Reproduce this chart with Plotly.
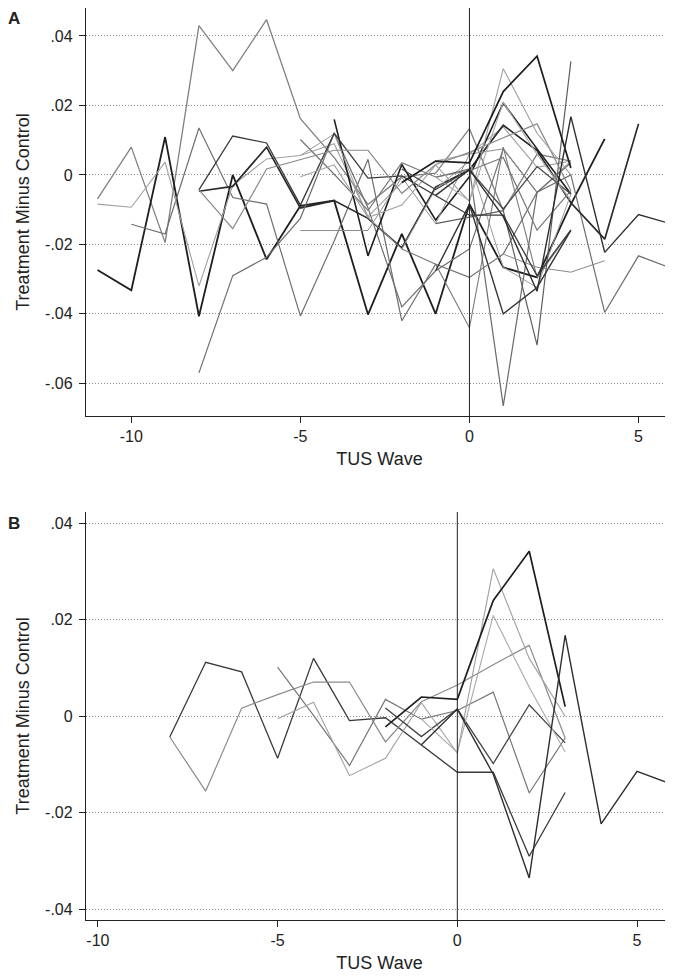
import plotly.graph_objects as go

# ---------------- data: each series = (first TUS wave, values) ----------------
# Panel B series (also drawn in panel A)
b1_start, b1_vals = -8, [-0.0043, 0.0112, 0.0092, -0.0087, 0.012, -0.0009, -0.0003, -0.006, -0.0116, -0.0116, -0.029, -0.0158]
b2_start, b2_vals = -8, [-0.0043, -0.0155, 0.0017, 0.0045, 0.0071, 0.0071, -0.0053, 0.003, 0.0065, 0.0107, 0.0147, -0.0045]
b3_start, b3_vals = -5, [0.0102, 0.0002, -0.0102, 0.0035, -0.0006, 0.0012, 0.005, -0.0159, -0.0045]
b4_start, b4_vals = -5, [-0.0005, 0.0029, -0.0123, -0.0087, 0.0028, -0.0076, 0.0306, 0.012, 0.0]
b5_start, b5_vals = -2, [-0.0022, 0.004, 0.0035, 0.024, 0.0342, 0.002]
b6_start, b6_vals = -2, [0.0017, -0.0042, 0.0015, -0.0098, 0.0024, -0.0055]
b7_start, b7_vals = -1, [-0.0006, -0.0075, 0.0209, 0.006, -0.0074]
b8_start, b8_vals = -1, [-0.0059, 0.0015, -0.012, -0.0335, 0.0168, -0.0223, -0.0114, -0.0142]

# Panel A only series
a1_start, a1_vals = -11, [-0.0069, 0.008, -0.0195, 0.043, 0.030, 0.0447, 0.0162, 0.005, -0.0085, -0.0005, 0.0005, 0.0133, -0.0103, 0.006, 0.004]
a2_start, a2_vals = -11, [-0.0274, -0.0332, 0.0109, -0.0407, 0.0, -0.0243, -0.0089, -0.0074, -0.0402, -0.017, -0.040, -0.0084, -0.0266, -0.0295, -0.0085, 0.0104]
a3_start, a3_vals = -10, [-0.0142, -0.017, 0.0135, -0.0065, -0.0084, -0.0406, -0.019, 0.0045, -0.042, -0.0257, -0.0295, -0.0228, -0.005, 0.0, -0.0396, -0.0233, -0.027]
a4_start, a4_vals = -11, [-0.0084, -0.0093, 0.0037, -0.032, -0.003, 0.0046, 0.0056, 0.009, -0.012, -0.0022, 0.004, 0.006, 0.0138, 0.0022, 0.004]
a5_start, a5_vals = -8, [-0.0047, -0.0033, 0.008, -0.0095, -0.0074, -0.0125, -0.021, -0.0035, 0.0015, 0.0143, 0.007, -0.008, -0.0185, 0.0147]
a6_start, a6_vals = -8, [-0.057, -0.029, -0.0237, -0.0125, 0.012, -0.0095, -0.038, -0.0276, -0.0213, 0.0075, -0.005]
a7_start, a7_vals = -4, [0.016, -0.0233, 0.003, -0.013, -0.0005, 0.0207, 0.0075, -0.0055]
a8_start, a8_vals = -5, [0.0056, 0.0118, -0.0123, -0.0213, -0.004, 0.004, -0.0266, -0.0324, -0.0055]
a9_start, a9_vals = -5, [-0.016, -0.016, -0.016, -0.0007, -0.014, 0.006, 0.0075, -0.005, 0.004]
a10_start, a10_vals = -2, [-0.0213, -0.0257, -0.044, 0.008, -0.0295, -0.016]
a11_start, a11_vals = -1, [-0.0007, 0.0017, -0.0665, -0.005, 0.0035]
a12_start, a12_vals = -1, [-0.014, -0.0122, -0.0103, -0.049, 0.0327]
a13_start, a13_vals = -1, [-0.0276, -0.0085, -0.040, -0.0324, -0.016]
a14_start, a14_vals = 0, [-0.0295, -0.0228, -0.0266, -0.028, -0.0247]

x_ticks = [-10, -5, 0, 5]
x_tick_labels = ["-10", "-5", "0", "5"]
yA_ticks = [0.04, 0.02, 0, -0.02, -0.04, -0.06]
yA_tick_labels = [".04", ".02", "0", "-.02", "-.04", "-.06"]
yB_ticks = [0.04, 0.02, 0, -0.02, -0.04]
yB_tick_labels = [".04", ".02", "0", "-.02", "-.04"]

# styles (colour, width)
b_styles = [("#3a3a3a", 1.3), ("#8a8a8a", 1.2), ("#777777", 1.2), ("#a0a0a0", 1.1),
            ("#1e1e1e", 1.7), ("#444444", 1.3), ("#aaaaaa", 1.1), ("#2e2e2e", 1.4)]
a_styles = [("#808080", 1.3), ("#1e1e1e", 1.8), ("#6e6e6e", 1.2), ("#a0a0a0", 1.1),
            ("#2a2a2a", 1.7), ("#6e6e6e", 1.2), ("#1e1e1e", 1.6), ("#9a9a9a", 1.0),
            ("#8c8c8c", 1.0), ("#7a7a7a", 1.1), ("#6a6a6a", 1.2), ("#5e5e5e", 1.2),
            ("#333333", 1.4), ("#888888", 1.0)]

b_series = [(b1_start, b1_vals), (b2_start, b2_vals), (b3_start, b3_vals), (b4_start, b4_vals),
            (b5_start, b5_vals), (b6_start, b6_vals), (b7_start, b7_vals), (b8_start, b8_vals)]
a_series = [(a1_start, a1_vals), (a2_start, a2_vals), (a3_start, a3_vals), (a4_start, a4_vals),
            (a5_start, a5_vals), (a6_start, a6_vals), (a7_start, a7_vals), (a8_start, a8_vals),
            (a9_start, a9_vals), (a10_start, a10_vals), (a11_start, a11_vals), (a12_start, a12_vals),
            (a13_start, a13_vals), (a14_start, a14_vals)]

fig = go.Figure()

def add(start, vals, color, width, xa, ya):
    xs = list(range(start, start + len(vals)))
    fig.add_trace(go.Scatter(x=xs, y=vals, mode="lines", xaxis=xa, yaxis=ya,
                             line=dict(color=color, width=width), showlegend=False,
                             hoverinfo="skip"))

# Panel A
for (s, v), (c, w) in zip(a_series, a_styles):
    add(s, v, c, w, "x", "y")
for (s, v), (c, w) in zip(b_series, b_styles):
    add(s, v, c, w, "x", "y")
# Panel B
for (s, v), (c, w) in zip(b_series, b_styles):
    add(s, v, c, w, "x2", "y2")

font_family = "Liberation Sans, Arial, sans-serif"
axis_common = dict(showline=True, linecolor="#222", linewidth=1.3, ticks="outside",
                   ticklen=6, tickcolor="#222", showgrid=False, zeroline=False,
                   tickfont=dict(size=16, color="#222", family=font_family))
yaxis_common = dict(axis_common, showgrid=True, gridcolor="#8f8f8f", griddash="1px,2px",
                    gridwidth=1, ticklabelstandoff=3)

fig.update_layout(
    width=665, height=970,
    margin=dict(l=78, r=0, t=0, b=58),
    paper_bgcolor="white", plot_bgcolor="white",
    font=dict(family=font_family, color="#222"),
    xaxis=dict(axis_common, domain=[0, 1], anchor="y", range=[-11.34, 6.02],
               tickvals=x_ticks, ticktext=x_tick_labels,
               title=dict(text="TUS Wave", font=dict(size=18), standoff=8)),
    yaxis=dict(yaxis_common, domain=[0.5526, 1], anchor="x", range=[-0.06942, 0.04806],
               tickvals=yA_ticks, ticktext=yA_tick_labels,
               title=dict(text="Treatment Minus Control", font=dict(size=18), standoff=10)),
    xaxis2=dict(axis_common, domain=[0, 1], anchor="y2", range=[-10.33, 6.0],
                tickvals=x_ticks, ticktext=x_tick_labels,
                title=dict(text="TUS Wave", font=dict(size=18), standoff=8)),
    yaxis2=dict(yaxis_common, domain=[0, 0.4474], anchor="x2", range=[-0.04222, 0.04235],
                tickvals=yB_ticks, ticktext=yB_tick_labels,
                title=dict(text="Treatment Minus Control", font=dict(size=18), standoff=10)),
    shapes=[
        dict(type="line", xref="x", yref="y domain", x0=0, x1=0, y0=0, y1=1,
             line=dict(color="#222", width=1)),
        dict(type="line", xref="x2", yref="y2 domain", x0=0, x1=0, y0=0, y1=1,
             line=dict(color="#222", width=1)),
    ],
    annotations=[
        dict(text="<b>A</b>", xref="paper", yref="paper", x=-0.1227, y=0.989,
             xanchor="center", yanchor="middle", showarrow=False,
             font=dict(size=17, color="#222")),
        dict(text="<b>B</b>", xref="paper", yref="paper", x=-0.1227, y=0.4353,
             xanchor="center", yanchor="middle", showarrow=False,
             font=dict(size=17, color="#222")),
    ],
)

fig.write_html("out.html")
